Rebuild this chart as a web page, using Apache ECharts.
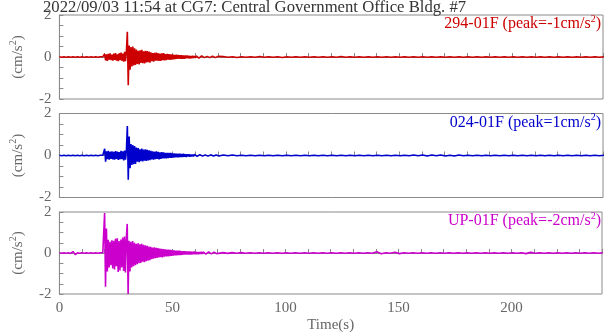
<!DOCTYPE html>
<html>
<head>
<meta charset="utf-8">
<script src="https://cdn.jsdelivr.net/npm/echarts@6/dist/echarts.min.js"></script>
<style>
html,body{margin:0;padding:0;background:#fff;}
#c{width:605px;height:334px;}
</style>
</head>
<body>
<div id="c"></div>
<script>
// ---- DATA ----
const chartTitle = "2022/09/03 11:54 at CG7: Central Government Office Bldg. #7";
const channelNames = ["294-01F", "024-01F", "UP-01F"];
const peakValues = [-1, 1, -2];
const xTickLabels = [0, 50, 100, 150, 200];
const yTickLabels = [-2, 0, 2];

// sampling of the traces (seconds)
const preStart = 0, preStep = 1;
const actStart = 19.2, actStep = 0.4;
const postStart = 70.4, postStep = 2;

// 294-01F
const redPre = [0.01,-0.01,0.01,-0.01,0.01,-0.01,0.01,-0.01,0.01,-0.01,0.01,-0.01,0.01,-0.01,0.01,-0.01,0.01,-0.01,0.01];
const redAct = [0.02,-0.03,
 0.14,-0.16,0.12,-0.18,0.15,-0.13,0.17,-0.15,0.11,-0.17,
 0.16,-0.14,0.19,-0.17,0.13,-0.2,0.18,-0.15,0.21,-0.18,0.16,-0.22,0.25,-0.2,0.3,
 1.2,-1.35,
 0.55,-0.6,0.48,-0.45,0.5,-0.4,0.42,-0.38,
 0.36,-0.33,0.3,-0.35,0.32,-0.28,0.34,-0.3,0.27,-0.31,0.3,-0.26,0.28,-0.25,0.26,-0.27,
 0.22,-0.2,0.19,-0.22,0.2,-0.18,0.21,-0.17,0.18,-0.19,0.16,-0.18,0.17,-0.15,0.18,-0.16,0.14,-0.15,0.15,-0.13,0.14,-0.14,0.12,-0.13,0.13,
 -0.11,0.1,-0.1,0.11,-0.09,0.1,-0.08,0.09,-0.09,0.08,-0.08,0.07,-0.08,0.07,-0.06,0.07,-0.06,0.06,-0.07,0.05,-0.06,0.06,-0.05,0.05,-0.05,
 0.05,-0.04,0.05,-0.05,0.04,-0.04,0.05,-0.04,0.04,-0.03,0.04,-0.04,0.03,-0.04,0.04,-0.03,0.03,-0.03,0.04,-0.03,0.03,-0.03,0.03,-0.02,0.03];
const redPost = [-0.02,0.02,-0.01,0.01,-0.02,0.01,-0.01,0.01,-0.01,0.02,-0.01,0.01,-0.01,0.01,-0.02,0.01,-0.01,0.01,-0.01,0.01,
 -0.01,0.01,-0.01,0.01,-0.01,0.01,-0.01,0.02,-0.01,0.01,-0.01,0.01,-0.01,0.01,-0.01,0.01,-0.01,0.01,-0.01,0.01,
 -0.01,0.01,-0.01,0.01,-0.01,0.01,-0.01,0.01,-0.01,0.01,-0.01,0.01,-0.01,0.01,-0.01,0.01,-0.01,0.01,-0.01,0.01,
 -0.01,0.01,-0.01,0.01,-0.01,0.01,-0.01,0.01,-0.01,0.01,-0.01,0.01,-0.01,0.01,-0.01,0.01,-0.01,0.01,-0.01,0.01,
 -0.01,0.01,-0.01,0.01,-0.01,0.01];

// 024-01F
const bluePre = [0.01,-0.01,0.01,-0.01,0.01,-0.01,0.01,-0.01,0.01,-0.01,0.01,-0.01,0.01,-0.01,0.01,-0.01,0.01,-0.01,0.01];
const blueAct = [0.02,-0.02,
 0.32,-0.3,0.2,-0.18,0.22,-0.2,0.18,-0.16,0.2,-0.19,
 0.17,-0.2,0.21,-0.16,0.19,-0.21,0.16,-0.18,0.22,-0.17,0.2,-0.23,0.24,-0.2,0.28,
 1.4,-1.15,
 0.9,-0.6,0.55,-0.45,0.5,-0.42,0.45,-0.4,
 0.38,-0.3,0.35,-0.32,0.3,-0.27,0.33,-0.28,0.28,-0.25,0.3,-0.26,0.27,-0.24,0.25,-0.22,
 0.22,-0.19,0.2,-0.2,0.18,-0.17,0.2,-0.16,0.17,-0.18,0.15,-0.16,0.16,-0.14,0.15,-0.14,0.13,-0.14,0.12,-0.12,0.13,-0.11,0.12,-0.11,0.1,
 -0.1,0.1,-0.09,0.09,-0.08,0.09,-0.08,0.08,-0.07,0.07,-0.07,0.08,-0.06,0.06,-0.07,0.06,-0.05,0.06,-0.06,0.05,-0.05,0.05,-0.05,0.05,-0.04,
 0.05,-0.04,0.04,-0.05,0.04,-0.04,0.04,-0.03,0.04,-0.04,0.03,-0.03,0.04,-0.03,0.03,-0.03,0.03,-0.03,0.03,-0.02,0.03,-0.03,0.02,-0.02,0.03];
const bluePost = [-0.02,0.02,-0.01,0.02,-0.01,0.01,-0.01,0.01,-0.01,0.01,-0.01,0.01,-0.01,0.01,-0.01,0.01,-0.01,0.01,-0.01,0.01,
 -0.01,0.01,-0.01,0.01,-0.01,0.01,-0.01,0.01,-0.01,0.01,-0.01,0.01,-0.01,0.01,-0.01,0.01,-0.01,0.01,-0.01,0.01,
 -0.01,0.01,-0.01,0.02,-0.01,0.02,-0.02,0.02,-0.01,0.02,-0.02,0.01,-0.02,0.02,-0.01,0.01,-0.01,0.01,-0.01,0.01,
 -0.01,0.01,-0.01,0.01,-0.01,0.01,-0.01,0.01,-0.01,0.01,-0.01,0.01,-0.01,0.01,-0.01,0.01,-0.01,0.01,-0.01,0.01,
 -0.01,0.01,-0.01,0.01,-0.01,0.01];

// UP-01F
const magPre = [0.01,-0.01,0.01,-0.01,0.01,-0.02,0.07,-0.08,0.01,-0.01,0.01,-0.01,0.01,-0.01,0.01,-0.01,0.01,-0.01,0.01];
const magAct = [0.02,-0.03,
 1.95,-1.65,1.2,-0.9,0.65,-0.7,0.55,-0.6,0.62,-0.75,
 0.6,-0.8,0.7,-0.65,0.72,-0.92,0.58,-0.85,0.66,-0.7,0.75,-0.88,0.8,-0.95,0.7,
 1.42,-2.0,
 0.6,-0.9,0.55,-0.7,0.58,-0.65,0.5,-0.6,
 0.45,-0.55,0.48,-0.5,0.42,-0.48,0.45,-0.42,0.4,-0.45,0.38,-0.4,0.35,-0.38,0.32,-0.35,
 0.3,-0.3,0.27,-0.28,0.28,-0.25,0.25,-0.24,0.24,-0.22,0.22,-0.2,0.2,-0.21,0.19,-0.18,0.18,-0.17,0.17,-0.16,0.16,-0.15,0.15,-0.14,0.14,
 -0.13,0.13,-0.12,0.12,-0.11,0.11,-0.1,0.11,-0.1,0.09,-0.09,0.09,-0.08,0.09,-0.08,0.08,-0.07,0.08,-0.07,0.07,-0.07,0.06,-0.06,0.07,-0.06,
 0.06,-0.06,0.05,-0.06,0.05,-0.05,0.06,-0.05,0.05,-0.04,0.05,-0.05,0.04,-0.04,0.05,-0.04,0.04,-0.04,0.04,-0.03,0.04,-0.03,0.03,-0.03,0.03];
const magPost = [-0.02,0.02,-0.02,0.02,-0.01,0.02,-0.01,0.01,-0.01,0.01,-0.01,0.01,-0.01,0.01,-0.01,0.01,-0.01,0.01,-0.01,0.01,
 -0.01,0.01,-0.01,0.01,-0.01,0.01,-0.01,0.01,-0.01,0.01,-0.01,0.01,-0.01,0.01,-0.01,0.06,-0.04,0.01,-0.01,0.04,
 -0.03,0.01,-0.01,0.01,-0.01,0.01,-0.01,0.01,-0.01,0.01,-0.01,0.01,-0.01,0.01,-0.01,0.01,-0.01,0.01,-0.01,0.01,
 -0.01,0.01,-0.01,0.01,-0.01,0.01,-0.01,0.01,-0.03,0.03,-0.01,0.01,-0.01,0.01,-0.01,0.01,-0.01,0.01,-0.01,0.01,
 -0.01,0.01,-0.01,0.01,-0.01,0.01];

// ---- BUILD ----
function seg(start, step, vals){ return vals.map((v,i)=>[+(start+i*step).toFixed(2), v]); }
function trace(pre, act, post){
  return seg(preStart,preStep,pre).concat(seg(actStart,actStep,act), seg(postStart,postStep,post));
}
const traces = [trace(redPre,redAct,redPost), trace(bluePre,blueAct,bluePost), trace(magPre,magAct,magPost)];
const colors = ['#cc0000','#0000cc','#cc00cc'];
const FONT = "'Liberation Serif','DejaVu Serif',serif";
const tops = [15, 113.5, 212];
const H = 84;
const axisGrey = '#8a8a8a', labelGrey = '#666';

const grids = [], xAxes = [], yAxes = [], series = [], graphics = [];
tops.forEach((t, k) => {
  grids.push({left: 42, right: 2, top: t, height: H, show: true, borderColor: axisGrey, borderWidth: 1, containLabel: false});
  xAxes.push({
    type: 'value', gridIndex: k, min: 0, max: 240, interval: 10,
    axisLine: {lineStyle: {color: axisGrey}},
    axisTick: {inside: true, length: 4, lineStyle: {color: axisGrey}},
    splitLine: {show: false},
    axisLabel: {show: k === 2, margin: 7, color: labelGrey, fontFamily: FONT, fontSize: 15,
      formatter: v => xTickLabels.indexOf(v) >= 0 ? String(v) : ''},
    name: k === 2 ? 'Time(s)' : '', nameLocation: 'middle', nameGap: 24,
    nameTextStyle: {color: labelGrey, fontFamily: FONT, fontSize: 15}
  });
  yAxes.push({
    type: 'value', gridIndex: k, min: -2, max: 2, interval: 0.5,
    axisLine: {lineStyle: {color: axisGrey}},
    axisTick: {inside: true, length: 4, lineStyle: {color: axisGrey}},
    splitLine: {show: false},
    axisLabel: {margin: 8, color: labelGrey, fontFamily: FONT, fontSize: 15,
      formatter: v => yTickLabels.indexOf(v) >= 0 ? String(v) : ''},
    name: '(cm/s{sup|2})', nameLocation: 'middle', nameGap: 28,
    nameTextStyle: {color: labelGrey, fontFamily: FONT, fontSize: 15, lineHeight: 20,
      rich: {sup: {fontSize: 10, lineHeight: 10, verticalAlign: 'top', color: labelGrey, fontFamily: FONT}}}
  });
  series.push({
    type: 'line', xAxisIndex: k, yAxisIndex: k, data: traces[k], showSymbol: false, symbol: 'none',
    lineStyle: {color: colors[k], width: 1.6}, itemStyle: {color: colors[k]}, animation: false, clip: true
  });
  graphics.push({
    type: 'text', x: 601, y: t + 9, z: 10,
    style: {text: channelNames[k] + ' (peak=' + peakValues[k] + 'cm/s{sup|2})',
      fill: colors[k], font: '16px ' + FONT, lineHeight: 20, align: 'right', verticalAlign: 'middle',
      rich: {sup: {fontSize: 10, lineHeight: 10, verticalAlign: 'top', fill: colors[k], fontFamily: FONT}}}
  });
});
graphics.push({type: 'text', x: 43, y: 8, style: {text: chartTitle, fill: '#333', font: '16.7px ' + FONT, align: 'left', verticalAlign: 'middle'}});

const chart = echarts.init(document.getElementById('c'), null, {renderer: 'canvas'});
chart.setOption({
  animation: false,
  grid: grids, xAxis: xAxes, yAxis: yAxes, series: series, graphic: graphics
});
</script>
</body>
</html>
